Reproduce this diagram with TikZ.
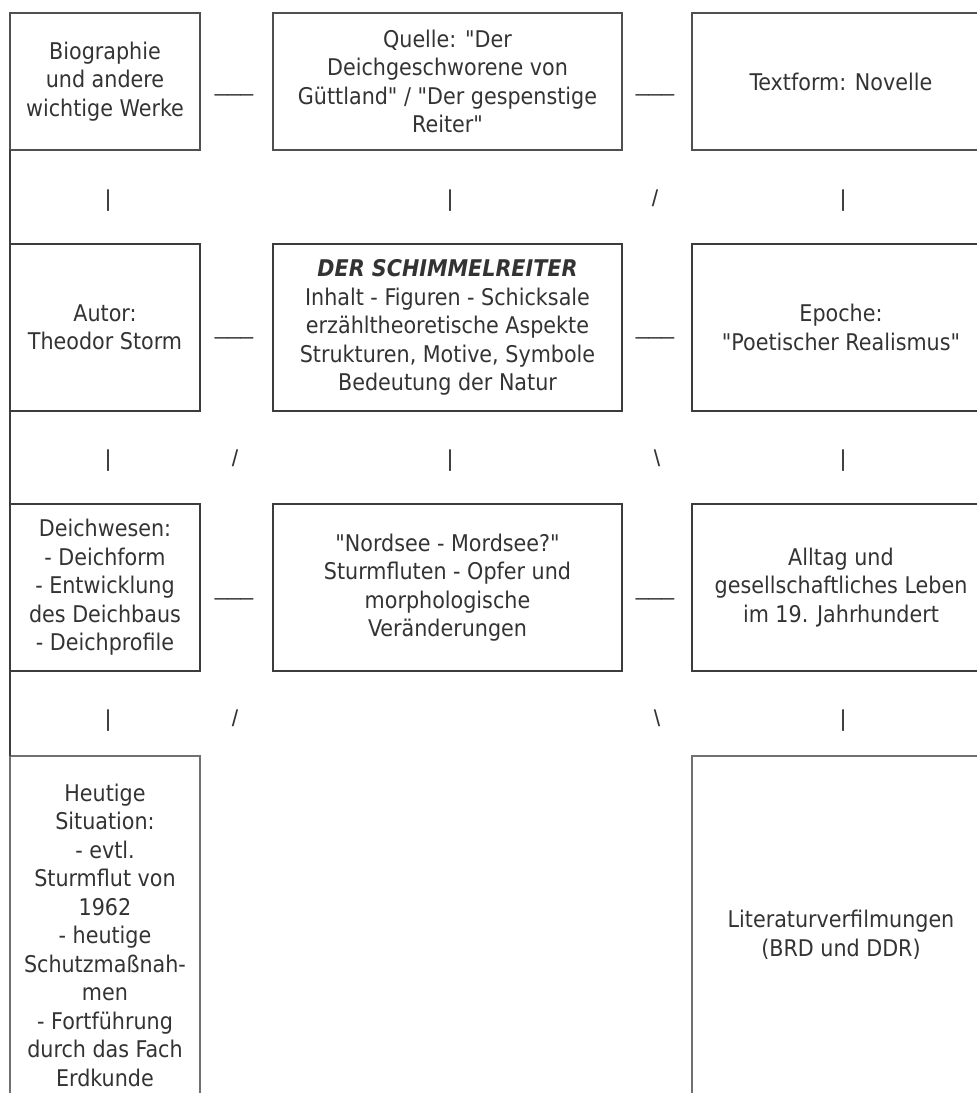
\documentclass[tikz,border=0pt]{standalone}
\usepackage{fontspec}
\setmainfont[Ligatures=TeXOff]{DejaVu Sans Condensed}
\newfontfamily\sepfont{Liberation Sans}
\definecolor{txt}{HTML}{333333}
\definecolor{lineA}{HTML}{505050}
\definecolor{lineB}{HTML}{3C3C3C}
\definecolor{lineC}{HTML}{707070}
\tikzset{
  cell/.style={draw=lineA, line width=1.6pt, text=txt, align=center, inner sep=0pt, outer sep=0pt},
  cellthick/.style={cell, draw=lineB, line width=2.8pt},
  cellthin/.style={cell, draw=lineC, line width=1.6pt},
  sepchar/.style={text=txt, inner sep=0pt, anchor=base, font=\sepfont\fontsize{23}{28}\selectfont},
  leftrule/.style={draw=lineB, line width=2.8pt}
}
\begin{document}
\begin{tikzpicture}[x=1pt,y=-1pt,font=\fontsize{23}{28.5}\selectfont]
\useasboundingbox (0,0) rectangle (977,1093);
\clip (0,0) rectangle (977,1093);
% row 1
\node[cell, minimum width=190, minimum height=137] (b1) at (105,81.5) {Biographie\\und andere\\wichtige Werke};
\node[cell, minimum width=349, minimum height=137] (b2) at (447.5,81.5) {Quelle: "Der\\Deichgeschworene von\\Güttland" / "Der gespenstige\\Reiter"};
\node[cell, minimum width=298, minimum height=137] (b3) at (841,81.5) {Textform: Novelle};
% row 2
\node[cellthick, minimum width=190, minimum height=167] (b4) at (105,327.5) {Autor:\\Theodor Storm};
\node[cellthick, minimum width=349, minimum height=167] (b5) at (447.5,327.5) {\textbf{\textit{DER SCHIMMELREITER}}\\Inhalt - Figuren - Schicksale\\erzähltheoretische Aspekte\\Strukturen, Motive, Symbole\\Bedeutung der Natur};
\node[cellthick, minimum width=298, minimum height=167] (b6) at (841,327.5) {Epoche:\\"Poetischer Realismus"};
% row 3
\node[cellthick, minimum width=190, minimum height=167] (b7) at (105,587.5) {Deichwesen:\\- Deichform\\- Entwicklung\\des Deichbaus\\- Deichprofile};
\node[cellthick, minimum width=349, minimum height=167] (b8) at (447.5,587.5) {"Nordsee - Mordsee?"\\Sturmfluten - Opfer und\\morphologische\\Veränderungen};
\node[cellthick, minimum width=298, minimum height=167] (b9) at (841,587.5) {Alltag und\\gesellschaftliches Leben\\im 19. Jahrhundert};
% row 4
\node[cellthin, minimum width=190, minimum height=358] (b10) at (105,935) {Heutige\\Situation:\\- evtl.\\Sturmflut von\\1962\\- heutige\\Schutzmaßnah-\\men\\- Fortführung\\durch das Fach\\Erdkunde};
\node[cellthin, minimum width=298, minimum height=358] (b11) at (841,935) {Literaturverfilmungen\\(BRD und DDR)};
% left rule
\draw[leftrule] (b1.south west) -- (b4.north west);
\draw[leftrule] (b4.south west) -- (b7.north west);
\draw[leftrule] (b7.south west) -- (b10.north west);
% horizontal separators
\node[sepchar] (h1) at (234,91) {\_\_\_};
\node[sepchar] (h2) at (655,91) {\_\_\_};
\node[sepchar] (h3) at (234,334) {\_\_\_};
\node[sepchar] (h4) at (655,334) {\_\_\_};
\node[sepchar] (h5) at (234,595) {\_\_\_};
\node[sepchar] (h6) at (655,595) {\_\_\_};
% gap 1
\node[sepchar] (v1) at (108,206) {|};
\node[sepchar] (v2) at (450,206) {|};
\node[sepchar] (v3) at (655,206) {/};
\node[sepchar] (v4) at (843,206) {|};
% gap 2
\node[sepchar] (v5) at (108,466) {|};
\node[sepchar] (v6) at (235,466) {/};
\node[sepchar] (v7) at (450,466) {|};
\node[sepchar] (v8) at (657,466) {\textbackslash};
\node[sepchar] (v9) at (843,466) {|};
% gap 3
\node[sepchar] (v10) at (108,726) {|};
\node[sepchar] (v11) at (235,726) {/};
\node[sepchar] (v12) at (657,726) {\textbackslash};
\node[sepchar] (v13) at (843,726) {|};
\end{tikzpicture}
\end{document}
